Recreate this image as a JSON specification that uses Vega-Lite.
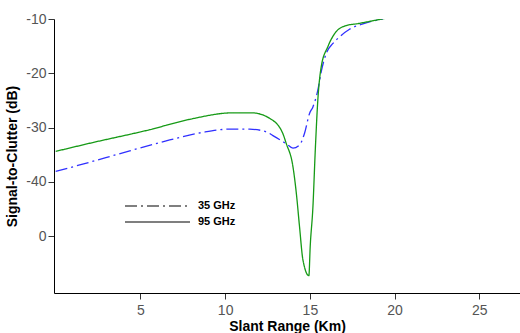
{
  "$schema": "https://vega.github.io/schema/vega-lite/v6.json",
  "autosize": {"type": "none"},
  "padding": {"left": 54, "top": 19, "right": 0, "bottom": 40},
  "width": 466,
  "height": 274,
  "background": "white",
  "config": {"view": {"stroke": null}, "font": "Liberation Sans"},
  "data": {"values": [
    {"x": 0, "v": -38.1, "s": "35 GHz"},
    {"x": 1.42, "v": -36.9, "s": "35 GHz"},
    {"x": 4.37, "v": -34.3, "s": "35 GHz"},
    {"x": 6.73, "v": -32.3, "s": "35 GHz"},
    {"x": 8.67, "v": -30.9, "s": "35 GHz"},
    {"x": 10.27, "v": -30.3, "s": "35 GHz"},
    {"x": 11.44, "v": -30.3, "s": "35 GHz"},
    {"x": 12.43, "v": -30.8, "s": "35 GHz"},
    {"x": 12.82, "v": -31.5, "s": "35 GHz"},
    {"x": 13.61, "v": -33.0, "s": "35 GHz"},
    {"x": 14.0, "v": -33.8, "s": "35 GHz"},
    {"x": 14.39, "v": -33.2, "s": "35 GHz"},
    {"x": 14.69, "v": -31.0, "s": "35 GHz"},
    {"x": 14.98, "v": -27.4, "s": "35 GHz"},
    {"x": 15.18, "v": -26.2, "s": "35 GHz"},
    {"x": 15.47, "v": -23.1, "s": "35 GHz"},
    {"x": 15.67, "v": -19.7, "s": "35 GHz"},
    {"x": 15.97, "v": -16.3, "s": "35 GHz"},
    {"x": 16.36, "v": -14.5, "s": "35 GHz"},
    {"x": 16.75, "v": -13.3, "s": "35 GHz"},
    {"x": 17.34, "v": -11.9, "s": "35 GHz"},
    {"x": 18.13, "v": -10.9, "s": "35 GHz"},
    {"x": 19.3, "v": -10.0, "s": "35 GHz"},
    {"x": 0, "v": -34.4, "s": "95 GHz"},
    {"x": 2.01, "v": -32.9, "s": "95 GHz"},
    {"x": 5.55, "v": -30.4, "s": "95 GHz"},
    {"x": 7.9, "v": -28.5, "s": "95 GHz"},
    {"x": 10.44, "v": -27.3, "s": "95 GHz"},
    {"x": 11.6, "v": -27.3, "s": "95 GHz"},
    {"x": 12.62, "v": -28.3, "s": "95 GHz"},
    {"x": 13.39, "v": -31.0, "s": "95 GHz"},
    {"x": 13.6, "v": -32.9, "s": "95 GHz"},
    {"x": 14.0, "v": -37.2, "s": "95 GHz"},
    {"x": 14.2, "v": -42.1, "s": "95 GHz"},
    {"x": 14.39, "v": -48.3, "s": "95 GHz"},
    {"x": 14.59, "v": -54.4, "s": "95 GHz"},
    {"x": 14.94, "v": -57.3, "s": "95 GHz"},
    {"x": 15.02, "v": -51.9, "s": "95 GHz"},
    {"x": 15.18, "v": -44.6, "s": "95 GHz"},
    {"x": 15.32, "v": -34.1, "s": "95 GHz"},
    {"x": 15.47, "v": -24.9, "s": "95 GHz"},
    {"x": 15.67, "v": -18.8, "s": "95 GHz"},
    {"x": 16.06, "v": -15.1, "s": "95 GHz"},
    {"x": 16.56, "v": -12.3, "s": "95 GHz"},
    {"x": 17.05, "v": -11.3, "s": "95 GHz"},
    {"x": 17.93, "v": -10.8, "s": "95 GHz"},
    {"x": 19.4, "v": -9.9, "s": "95 GHz"}
  ]},
  "encoding": {
    "x": {
      "field": "x", "type": "quantitative",
      "scale": {"domain": [-0.1, 27.4], "nice": false, "zero": false},
      "axis": {
        "title": "Slant Range (Km)", "values": [5, 10, 15, 20, 25],
        "grid": false, "domainColor": "#000", "tickColor": "#333", "tickSize": 6,
        "labelColor": "#555", "labelFontSize": 14, "labelPadding": 4,
        "titleFontSize": 14, "titleFontWeight": "bold", "titleColor": "#000", "titlePadding": 2
      }
    },
    "y": {
      "field": "v", "type": "quantitative",
      "scale": {"domain": [-60.5, -10], "nice": false, "zero": false},
      "axis": {
        "title": "Signal-to-Clutter (dB)", "values": [-50, -40, -30, -20, -10],
        "labelExpr": "datum.value == -50 ? '0' : '' + datum.value",
        "grid": false, "domainColor": "#000", "tickColor": "#333", "tickSize": 6,
        "labelColor": "#555", "labelFontSize": 14, "labelPadding": 2,
        "titleFontSize": 14, "titleFontWeight": "bold", "titleColor": "#000", "titlePadding": 6
      }
    }
  },
  "layer": [
    {
      "transform": [{"filter": "datum.x > 1000"}],
      "mark": {"type": "line", "strokeWidth": 1.2, "color": "#000"},
      "encoding": {
        "strokeDash": {
          "field": "s", "type": "nominal",
          "scale": {"domain": ["35 GHz", "95 GHz"], "range": [[12, 4, 2, 4], [1, 0]]},
          "legend": {
            "title": null, "orient": "none", "legendX": 125, "legendY": 181,
            "symbolType": "M-12,0H1", "symbolSize": 100, "symbolStrokeWidth": 1.2,
            "labelFontSize": 11, "labelFontWeight": "bold", "labelColor": "#000",
            "rowPadding": 5, "labelOffset": 7
          }
        }
      }
    },
    {
      "mark": {"type": "line", "strokeWidth": 1.3, "clip": true, "interpolate": "monotone"},
      "encoding": {
        "color": {
          "field": "s", "type": "nominal",
          "scale": {"domain": ["95 GHz", "35 GHz"], "range": ["#169a16", "#3030ff"]},
          "legend": null
        },
        "strokeDash": {
          "field": "s", "type": "nominal",
          "scale": {"domain": ["35 GHz", "95 GHz"], "range": [[12, 4, 2, 4], [1, 0]]}
        }
      }
    }
  ]
}
